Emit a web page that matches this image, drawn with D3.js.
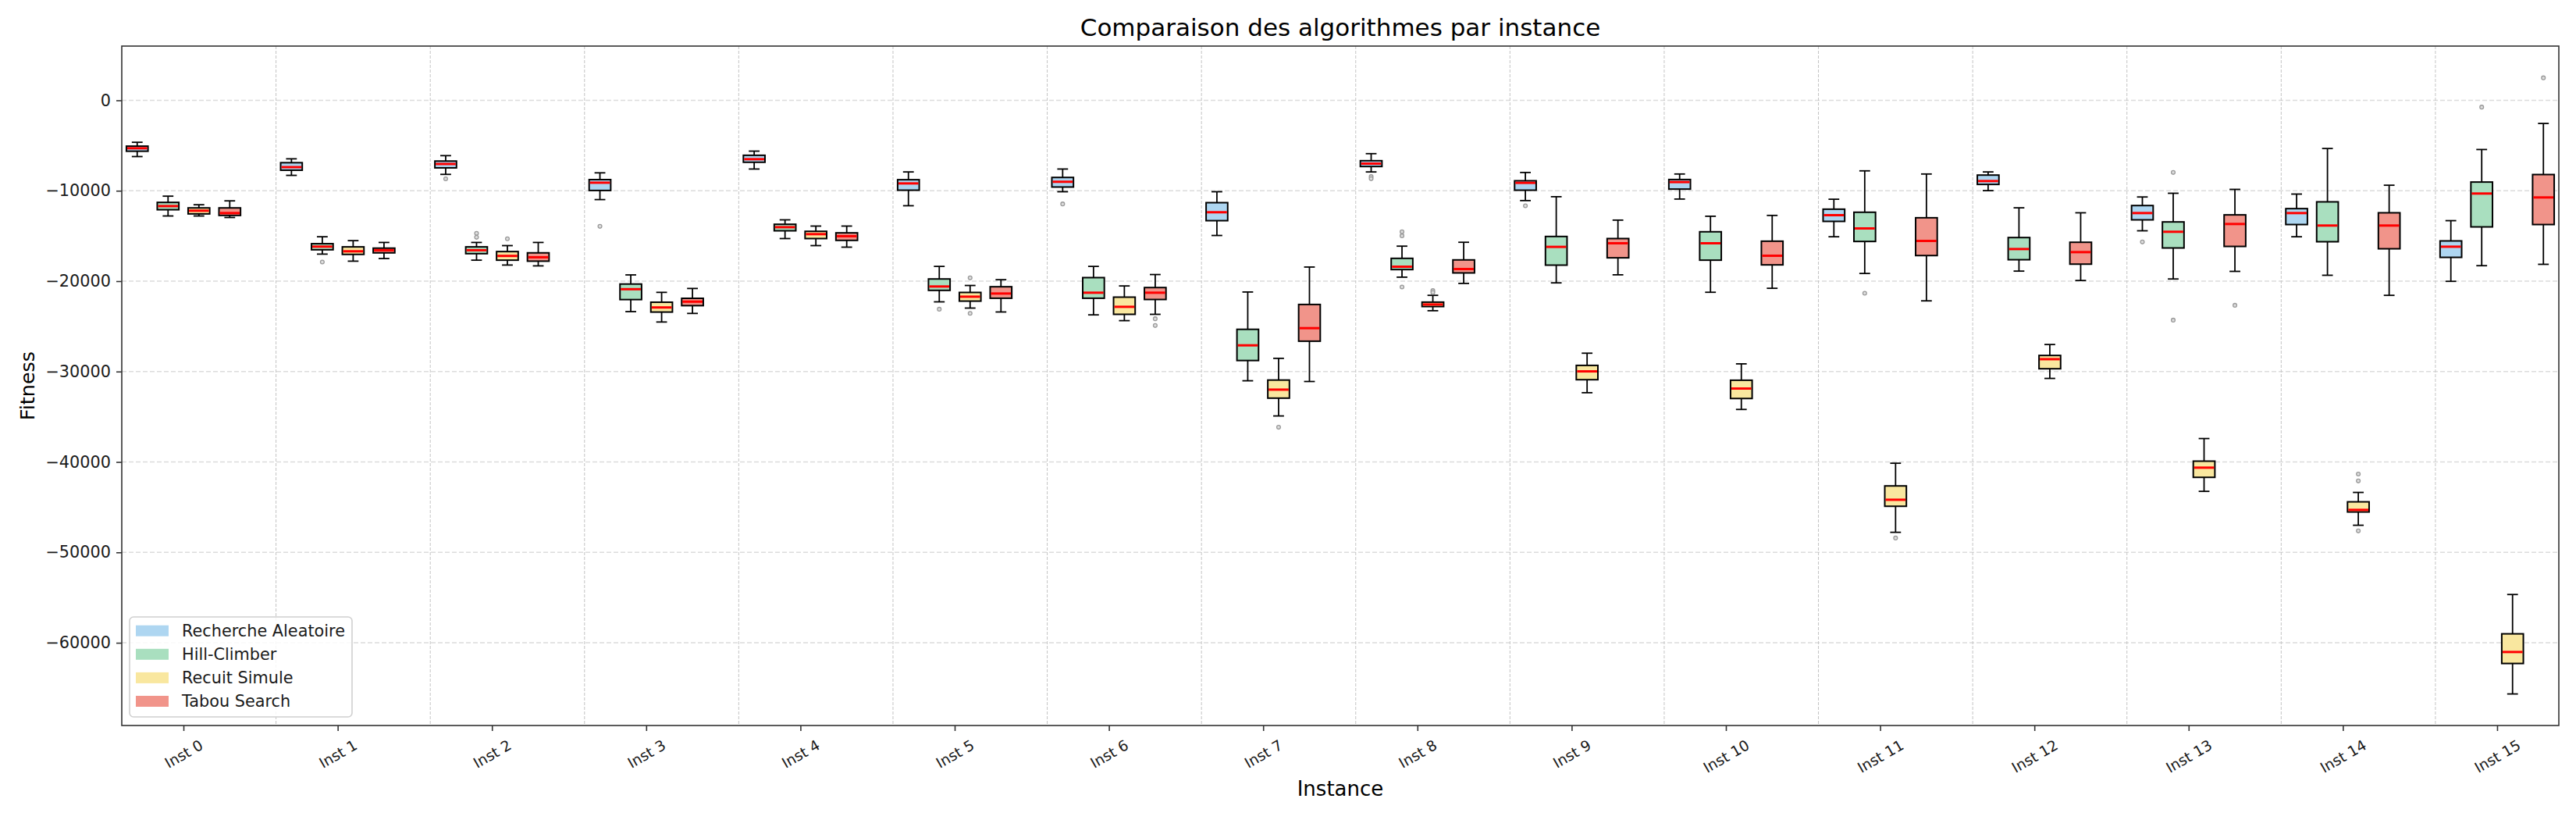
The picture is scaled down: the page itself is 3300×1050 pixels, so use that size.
<!DOCTYPE html>
<html>
<head>
<meta charset="utf-8">
<script src="https://cdn.jsdelivr.net/npm/d3@7"></script>
<style>
  body { margin: 0; background: #fff; }
  text { font-family: 'DejaVu Sans', sans-serif; }
</style>
</head>
<body>
<svg id="chart"></svg>
<script>
const w = 3300;
const h = 1050;
const margin = { top: 59, right: 22, bottom: 121, left: 156 };

const categories = d3.range(16).map((i) => 'Inst ' + i);
const algorithms = ['Recherche Aleatoire', 'Hill-Climber', 'Recuit Simule', 'Tabou Search'];
const colors = ['#AED6F1', '#A9DFBF', '#F9E79F', '#F1948A'];
const yTicks = [0, -10000, -20000, -30000, -40000, -50000, -60000];
const yDomain = [-69150, 6000];

// [whisker bas, Q1, mediane, Q3, whisker haut] par instance
const randomStats = [
  [-6220, -5630, -5300, -5070, -4640],
  [-8300, -7730, -7390, -6900, -6470],
  [-8190, -7470, -7040, -6720, -6120],
  [-10980, -9970, -9110, -8770, -8020],
  [-7600, -6850, -6510, -6080, -5620],
  [-11660, -9940, -9190, -8780, -7920],
  [-10110, -9590, -9010, -8530, -7600],
  [-14950, -13310, -12380, -11320, -10110],
  [-7920, -7320, -7000, -6680, -5900],
  [-11090, -9940, -9130, -8900, -7980],
  [-10920, -9820, -9040, -8760, -8150],
  [-15090, -13390, -12700, -12040, -10940],
  [-9990, -9300, -8930, -8270, -7920],
  [-14430, -13220, -12470, -11640, -10690],
  [-15090, -13740, -12470, -11980, -10370],
  [-20020, -17370, -16190, -15550, -13310],
];
const hillStats = [
  [-12790, -12100, -11700, -11290, -10600],
  [-17010, -16530, -16180, -15860, -15090],
  [-17680, -16960, -16580, -16210, -15720],
  [-23370, -22040, -20890, -20320, -19310],
  [-15290, -14430, -14030, -13710, -13220],
  [-22290, -21020, -20590, -19760, -18370],
  [-23730, -21890, -21280, -19610, -18370],
  [-31020, -28780, -27100, -25330, -21200],
  [-19560, -18720, -18400, -17480, -16130],
  [-20190, -18230, -16210, -15060, -10660],
  [-21230, -17680, -15810, -14540, -12820],
  [-19150, -15610, -14170, -12380, -7800],
  [-18890, -17630, -16450, -15180, -11890],
  [-19760, -16330, -14540, -13450, -10280],
  [-19350, -15640, -13850, -11230, -5330],
  [-18290, -14000, -10310, -9040, -5440],
];
const recuitStats = [
  [-12790, -12560, -12210, -11900, -11550],
  [-17790, -17040, -16700, -16210, -15520],
  [-18220, -17680, -17210, -16730, -16070],
  [-24520, -23420, -22910, -22330, -21240],
  [-16070, -15290, -14800, -14490, -13910],
  [-22980, -22210, -21720, -21250, -20480],
  [-24370, -23670, -22840, -21770, -20530],
  [-34910, -32940, -32000, -30940, -28540],
  [-23270, -22810, -22580, -22320, -21570],
  [-32340, -30900, -29980, -29320, -27970],
  [-34190, -32980, -31880, -30960, -29150],
  [-47780, -44900, -44180, -42650, -40140],
  [-30760, -29690, -28630, -28220, -27010],
  [-43250, -41700, -40630, -39910, -37410],
  [-47000, -45530, -45300, -44410, -43370],
  [-65660, -62290, -61020, -59010, -54660],
];
const tabouStats = [
  [-12960, -12730, -12470, -11900, -11120],
  [-17500, -16870, -16580, -16350, -15720],
  [-18310, -17790, -17360, -16870, -15720],
  [-23570, -22710, -22270, -21900, -20810],
  [-16240, -15490, -15030, -14660, -13910],
  [-23410, -21890, -21370, -20620, -19840],
  [-23670, -22030, -21280, -20710, -19270],
  [-31100, -26640, -25200, -22580, -18440],
  [-20250, -19090, -18660, -17650, -15700],
  [-19300, -17420, -15810, -15290, -13250],
  [-20790, -18200, -17190, -15580, -12730],
  [-22180, -17170, -15550, -12990, -8150],
  [-19930, -18120, -16790, -15700, -12440],
  [-18920, -16160, -13680, -12670, -9850],
  [-21570, -16420, -13850, -12440, -9390],
  [-18140, -13740, -10740, -8210, -2560],
];

// valeurs aberrantes : [instance, valeur]
const randomFliers = [[2, -8680], [3, -13940], [6, -11460], [8, -8440], [8, -8670], [9, -11660], [13, -15670]];
const hillFliers = [[1, -17880], [2, -14710], [2, -15150], [5, -23100], [8, -14540], [8, -14980], [8, -20650],
  [11, -21340], [13, -7980], [13, -24310], [15, -750]];
const recuitFliers = [[2, -15320], [5, -19640], [5, -23560], [7, -36160], [8, -21050], [8, -21250],
  [11, -48410], [14, -41330], [14, -42100], [14, -47630]];
const tabouFliers = [[6, -24160], [6, -24910], [13, -22670], [15, 2490]];

const allStats = [randomStats, hillStats, recuitStats, tabouStats];
const allFliers = [randomFliers, hillFliers, recuitFliers, tabouFliers];

const svg = d3.select('#chart').attr('width', w).attr('height', h);

const x = d3.scaleLinear().domain([-2, 77]).range([margin.left, w - margin.right]);
const y = d3.scaleLinear().domain(yDomain).range([h - margin.bottom, margin.top]);

const boxW = 0.7;
const pos = (inst, alg) => 5 * inst + alg - 1.5;

// grille horizontale
svg.append('g')
  .selectAll('line')
  .data(yTicks)
  .enter()
  .append('line')
  .attr('x1', margin.left)
  .attr('x2', w - margin.right)
  .attr('y1', (d) => y(d))
  .attr('y2', (d) => y(d))
  .attr('stroke', '#dcdcdc')
  .attr('stroke-width', 1.5)
  .attr('stroke-dasharray', '6,3');

// separateurs verticaux
svg.append('g')
  .selectAll('line')
  .data(d3.range(15))
  .enter()
  .append('line')
  .attr('x1', (d) => x(5 * d + 3))
  .attr('x2', (d) => x(5 * d + 3))
  .attr('y1', margin.top)
  .attr('y2', h - margin.bottom)
  .attr('stroke', '#c4c4c4')
  .attr('stroke-width', 1)
  .attr('stroke-dasharray', '4,2');

const boxes = [];
allStats.forEach((stats, a) => {
  stats.forEach((s, i) => {
    boxes.push({ inst: i, alg: a, lo: s[0], q1: s[1], med: s[2], q3: s[3], hi: s[4] });
  });
});
const fliers = [];
allFliers.forEach((list, a) => {
  list.forEach((f) => fliers.push({ inst: f[0], alg: a, v: f[1] }));
});

const g = svg.append('g');
const bx = g.selectAll('g.box').data(boxes).enter().append('g').attr('class', 'box');

// moustaches
bx.append('line')
  .attr('x1', (d) => x(pos(d.inst, d.alg)))
  .attr('x2', (d) => x(pos(d.inst, d.alg)))
  .attr('y1', (d) => y(d.hi))
  .attr('y2', (d) => y(d.lo))
  .attr('stroke', '#000')
  .attr('stroke-width', 1.8);
bx.append('line')
  .attr('x1', (d) => x(pos(d.inst, d.alg) - boxW / 4))
  .attr('x2', (d) => x(pos(d.inst, d.alg) + boxW / 4))
  .attr('y1', (d) => y(d.hi))
  .attr('y2', (d) => y(d.hi))
  .attr('stroke', '#000')
  .attr('stroke-width', 1.8);
bx.append('line')
  .attr('x1', (d) => x(pos(d.inst, d.alg) - boxW / 4))
  .attr('x2', (d) => x(pos(d.inst, d.alg) + boxW / 4))
  .attr('y1', (d) => y(d.lo))
  .attr('y2', (d) => y(d.lo))
  .attr('stroke', '#000')
  .attr('stroke-width', 1.8);

// boites
bx.append('rect')
  .attr('x', (d) => x(pos(d.inst, d.alg) - boxW / 2))
  .attr('y', (d) => y(d.q3))
  .attr('width', x(boxW) - x(0))
  .attr('height', (d) => y(d.q1) - y(d.q3))
  .attr('fill', (d) => colors[d.alg])
  .attr('stroke', '#000')
  .attr('stroke-width', 2);

// medianes
bx.append('line')
  .attr('x1', (d) => x(pos(d.inst, d.alg) - boxW / 2) + 1)
  .attr('x2', (d) => x(pos(d.inst, d.alg) + boxW / 2) - 1)
  .attr('y1', (d) => y(d.med))
  .attr('y2', (d) => y(d.med))
  .attr('stroke', '#ff0000')
  .attr('stroke-width', 3);

g.selectAll('circle')
  .data(fliers)
  .enter()
  .append('circle')
  .attr('cx', (d) => x(pos(d.inst, d.alg)))
  .attr('cy', (d) => y(d.v))
  .attr('r', 2.4)
  .attr('fill', '#dedede')
  .attr('stroke', '#9a9a9a')
  .attr('stroke-width', 1.3);

// axes
const fmt = (d) => (d < 0 ? '\u2212' + Math.abs(d) : '' + d);
const yAxis = svg.append('g')
  .attr('transform', `translate(${margin.left}, 0)`)
  .call(d3.axisLeft(y).tickValues(yTicks).tickFormat(fmt).tickSize(7).tickPadding(7));
yAxis.select('.domain').remove();
yAxis.selectAll('line').attr('stroke', '#333').attr('stroke-width', 1.6);
yAxis.selectAll('text').attr('font-size', 20.8).attr('fill', '#1a1a1a')
  .attr('font-family', "'DejaVu Sans', sans-serif");

const xAxis = svg.append('g')
  .attr('transform', `translate(0, ${h - margin.bottom})`)
  .call(d3.axisBottom(x).tickValues(categories.map((c, i) => 5 * i))
    .tickFormat((d, i) => categories[i]).tickSize(7).tickPadding(7));
xAxis.select('.domain').remove();
xAxis.selectAll('line').attr('stroke', '#333').attr('stroke-width', 1.6);
const fsX = 18.75;
xAxis.selectAll('text')
  .attr('font-size', fsX)
  .attr('fill', '#1a1a1a')
  .attr('font-family', "'DejaVu Sans', sans-serif")
  .attr('text-anchor', 'middle')
  .attr('y', 0)
  .attr('dy', '0.35em')
  .attr('transform', function () {
    const L = this.getComputedTextLength();
    const H = L * 0.5 + fsX * 1.16 * 0.866;
    return `translate(0, ${14 + H / 2}) rotate(-30)`;
  });

// cadre
svg.append('rect')
  .attr('x', margin.left)
  .attr('y', margin.top)
  .attr('width', w - margin.left - margin.right)
  .attr('height', h - margin.top - margin.bottom)
  .attr('fill', 'none')
  .attr('stroke', '#333')
  .attr('stroke-width', 1.6);

// titres
svg.append('text')
  .attr('x', (margin.left + w - margin.right) / 2)
  .attr('y', 46)
  .attr('text-anchor', 'middle')
  .attr('font-size', 31)
  .attr('fill', '#000')
  .text('Comparaison des algorithmes par instance');

svg.append('text')
  .attr('x', (margin.left + w - margin.right) / 2)
  .attr('y', 1019)
  .attr('text-anchor', 'middle')
  .attr('font-size', 26)
  .attr('fill', '#000')
  .text('Instance');

svg.append('text')
  .attr('transform', `translate(44, ${(margin.top + h - margin.bottom) / 2}) rotate(-90)`)
  .attr('text-anchor', 'middle')
  .attr('font-size', 25.5)
  .attr('fill', '#000')
  .text('Fitness');

// legende
const leg = svg.append('g').attr('transform', 'translate(166, 790)');
leg.append('rect')
  .attr('width', 285)
  .attr('height', 128)
  .attr('rx', 5)
  .attr('fill', '#fff')
  .attr('fill-opacity', 0.85)
  .attr('stroke', '#d0d0d0')
  .attr('stroke-width', 1.6);
const items = leg.selectAll('g.item')
  .data(algorithms)
  .enter()
  .append('g')
  .attr('class', 'item')
  .attr('transform', (d, i) => `translate(0, ${17.7 + i * 30.1})`);
items.append('rect')
  .attr('x', 8)
  .attr('y', -7)
  .attr('width', 42)
  .attr('height', 14)
  .attr('fill', (d, i) => colors[i]);
items.append('text')
  .attr('x', 67)
  .attr('dy', '0.35em')
  .attr('font-size', 20.8)
  .attr('fill', '#1a1a1a')
  .text((d) => d);
</script>
</body>
</html>
